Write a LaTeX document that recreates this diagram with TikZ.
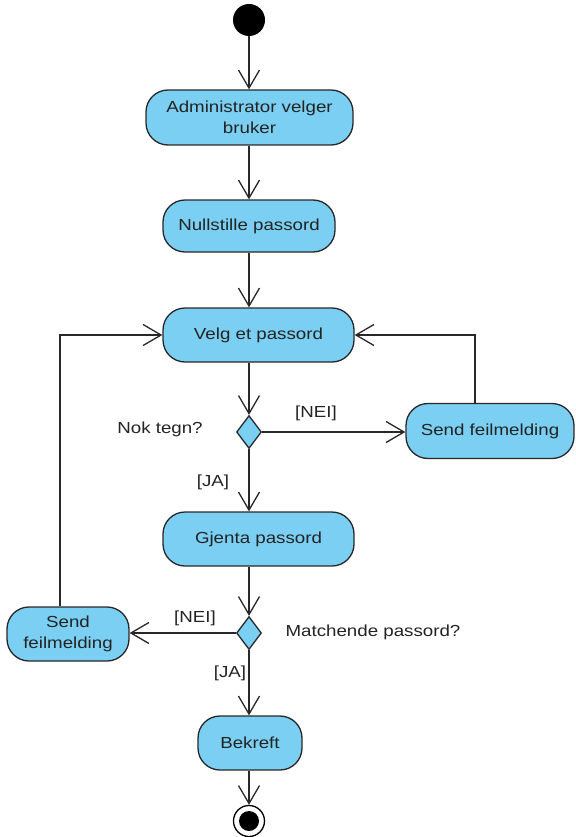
\documentclass[tikz,border=0pt]{standalone}
\usepackage{fontspec}
\setmainfont{Liberation Sans}[FakeStretch=1.17]
\usetikzlibrary{arrows.meta,shapes.geometric}
\definecolor{actfill}{RGB}{122,207,243}
\definecolor{edgecol}{RGB}{40,40,40}
\definecolor{txtcol}{RGB}{35,35,35}
\begin{document}
\begin{tikzpicture}[x=1pt,y=-1pt,
  act/.style={draw=edgecol, fill=actfill, rounded corners=22pt, line width=1.3pt,
    align=center, inner sep=0pt, text=txtcol,
    font=\fontsize{16}{21}\selectfont},
  dec/.style={draw=edgecol, fill=actfill, diamond, line width=1.3pt, inner sep=0pt,
    minimum width=25pt, minimum height=33pt},
  arr/.style={draw=edgecol, line width=1.3pt,
    -{Straight Barb[length=18pt,width=21pt,line width=1.3pt]}},
  lbl/.style={text=txtcol, inner sep=0pt, font=\fontsize{16}{21}\selectfont}]
\useasboundingbox (0,0) rectangle (575,837);

\node[circle, fill=black, minimum size=32pt, inner sep=0pt] (start) at (249,20) {};
\node[act, minimum width=207pt, minimum height=55pt] (admin) at (249.5,117.5) {Administrator velger\\bruker};
\node[act, minimum width=172pt, minimum height=52pt] (null) at (249,226) {Nullstille passord};
\node[act, minimum width=191pt, minimum height=54pt] (velg) at (258.5,335) {Velg et passord};
\node[dec] (d1) at (249,432) {};
\node[act, minimum width=168pt, minimum height=55pt] (sendR) at (490,431) {Send feilmelding};
\node[act, minimum width=191pt, minimum height=54pt] (gjenta) at (258.5,539) {Gjenta passord};
\node[dec] (d2) at (249,633) {};
\node[act, minimum width=122pt, minimum height=54pt] (sendL) at (68,634) {Send\\feilmelding};
\node[act, minimum width=104pt, minimum height=54pt] (bekreft) at (250,743) {Bekreft};
\node[circle, draw=black, line width=1.3pt, fill=white, minimum size=31pt, inner sep=0pt] (end) at (249,821) {};
\node[circle, fill=black, minimum size=20pt, inner sep=0pt] (endin) at (249,821) {};

\node[lbl] (nok) at (160,429) {Nok tegn?};
\node[lbl] (nei1) at (316,413) {[NEI]};
\node[lbl] (ja1) at (213,482) {[JA]};
\node[lbl] (match) at (373,632) {Matchende passord?};
\node[lbl] (nei2) at (195,618) {[NEI]};
\node[lbl] (ja2) at (230,673) {[JA]};

\coordinate (rx) at (475,400);
\coordinate (lx) at (60,600);

\draw[arr] (start) -- (start |- admin.north);
\draw[arr] (admin.south -| start) -- (start |- null.north);
\draw[arr] (null.south -| start) -- (start |- velg.north);
\draw[arr] (start |- velg.south) -- (d1.north);
\draw[arr] (d1.east) -- (d1.east -| sendR.west);
\draw[arr] (d1.south) -- (d1.south |- gjenta.north);
\draw[arr] (sendR.north -| rx) |- (velg.east);
\draw[arr] (start |- gjenta.south) -- (d2.north);
\draw[arr] (d2.west) -- (d2.west -| sendL.east);
\draw[arr] (sendL.north -| lx) |- (velg.west);
\draw[arr] (d2.south) -- (d2.south |- bekreft.north);
\draw[arr] (start |- bekreft.south) -- (end.north);
\end{tikzpicture}
\end{document}
